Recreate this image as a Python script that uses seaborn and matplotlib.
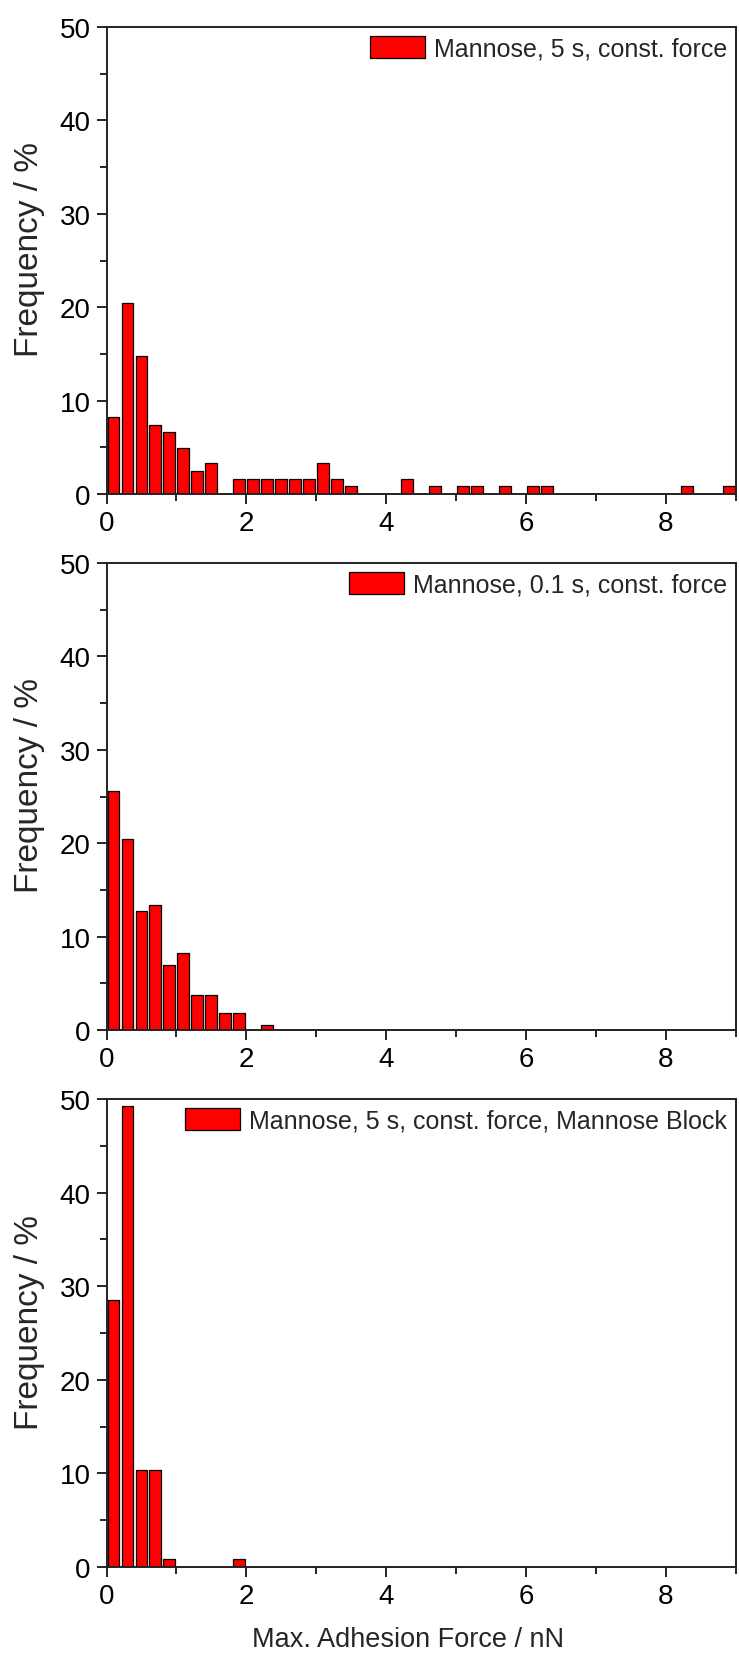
import numpy as np
import pandas as pd
import matplotlib
matplotlib.use("Agg")
import matplotlib.pyplot as plt
from matplotlib.ticker import MultipleLocator
from matplotlib.patches import Patch
import seaborn as sns

# Histogram bins of the maximum adhesion force (nN)
bin_width = 0.2
bin_edges = [round(b, 2) for b in np.arange(0.0, 9.0 + bin_width / 2, bin_width)]

# Mannose, 5 s contact, constant force
centers_5s = [0.1, 0.3, 0.5, 0.7, 0.9, 1.1, 1.3, 1.5, 1.9, 2.1, 2.3, 2.5, 2.7,
              2.9, 3.1, 3.3, 3.5, 4.3, 4.7, 5.1, 5.3, 5.7, 6.1, 6.3, 8.3, 8.9]
freq_5s = [8.2, 20.5, 14.8, 7.4, 6.6, 4.9, 2.5, 3.3, 1.64, 1.64, 1.64, 1.64, 1.64,
           1.64, 3.3, 1.64, 0.82, 1.64, 0.82, 0.82, 0.82, 0.82, 0.82, 0.82, 0.82, 0.82]

# Mannose, 0.1 s contact, constant force
centers_01s = [0.1, 0.3, 0.5, 0.7, 0.9, 1.1, 1.3, 1.5, 1.7, 1.9, 2.3]
freq_01s = [25.6, 20.4, 12.7, 13.4, 7.0, 8.25, 3.7, 3.7, 1.8, 1.8, 0.55]

# Mannose, 5 s contact, constant force, with mannose block
centers_block = [0.1, 0.3, 0.5, 0.7, 0.9, 1.9]
freq_block = [28.5, 49.3, 10.4, 10.4, 0.82, 0.82]

legend_labels = ["Mannose, 5 s, const. force",
                 "Mannose, 0.1 s, const. force",
                 "Mannose, 5 s, const. force, Mannose Block"]
y_label = "Frequency / %"
x_label = "Max. Adhesion Force / nN"

sns.set_theme(style="ticks")
plt.rcParams["font.family"] = ["Liberation Sans", "DejaVu Sans"]

W, H = 739, 1656
fig = plt.figure(figsize=(W / 100, H / 100), dpi=100)
fig.patch.set_facecolor("white")

left_px, right_px = 106.5, 735.7
panel_px = [(28, 495), (564, 1031), (1100, 1568)]

datasets = [(centers_5s, freq_5s), (centers_01s, freq_01s), (centers_block, freq_block)]

for i, ((top, bottom), (cx, fy), lab) in enumerate(zip(panel_px, datasets, legend_labels)):
    ax = fig.add_axes([left_px / W, 1 - bottom / H,
                       (right_px - left_px) / W, (bottom - top) / H])
    df = pd.DataFrame({"force": cx, "freq": fy})
    sns.histplot(data=df, x="force", weights="freq", bins=bin_edges, shrink=0.85,
                 color="#ff0000", edgecolor="black", linewidth=0.9,
                 alpha=1.0, ax=ax)
    ax.set_xlim(0, 9)
    ax.set_ylim(0, 50)
    ax.xaxis.set_major_locator(MultipleLocator(2))
    ax.xaxis.set_minor_locator(MultipleLocator(1))
    ax.yaxis.set_major_locator(MultipleLocator(10))
    ax.yaxis.set_minor_locator(MultipleLocator(5))
    ax.tick_params(which="both", direction="out", width=1.2, colors="black",
                   labelsize=20, pad=4.0, top=False, right=False)
    ax.tick_params(which="major", length=7.5)
    ax.tick_params(which="minor", length=5)
    for sp in ax.spines.values():
        sp.set_visible(True)
        sp.set_linewidth(1.4)
        sp.set_color("#222222")
    ax.set_ylabel(y_label, fontsize=24)
    ax.yaxis.set_label_coords(-0.098, 0.525)
    if i == 2:
        ax.set_xlabel(x_label, fontsize=19.5, labelpad=12)
        ax.xaxis.label.set_x(0.48)
    else:
        ax.set_xlabel("")
    handle = Patch(facecolor="#ff0000", edgecolor="black", linewidth=0.9, label=lab)
    ax.legend(handles=[handle], loc="upper right", frameon=False, fontsize=18,
              handlelength=2.2, handleheight=1.0, handletextpad=0.35,
              borderaxespad=0.15, borderpad=0.2)

fig.savefig("out.png", dpi=100, facecolor="white")
